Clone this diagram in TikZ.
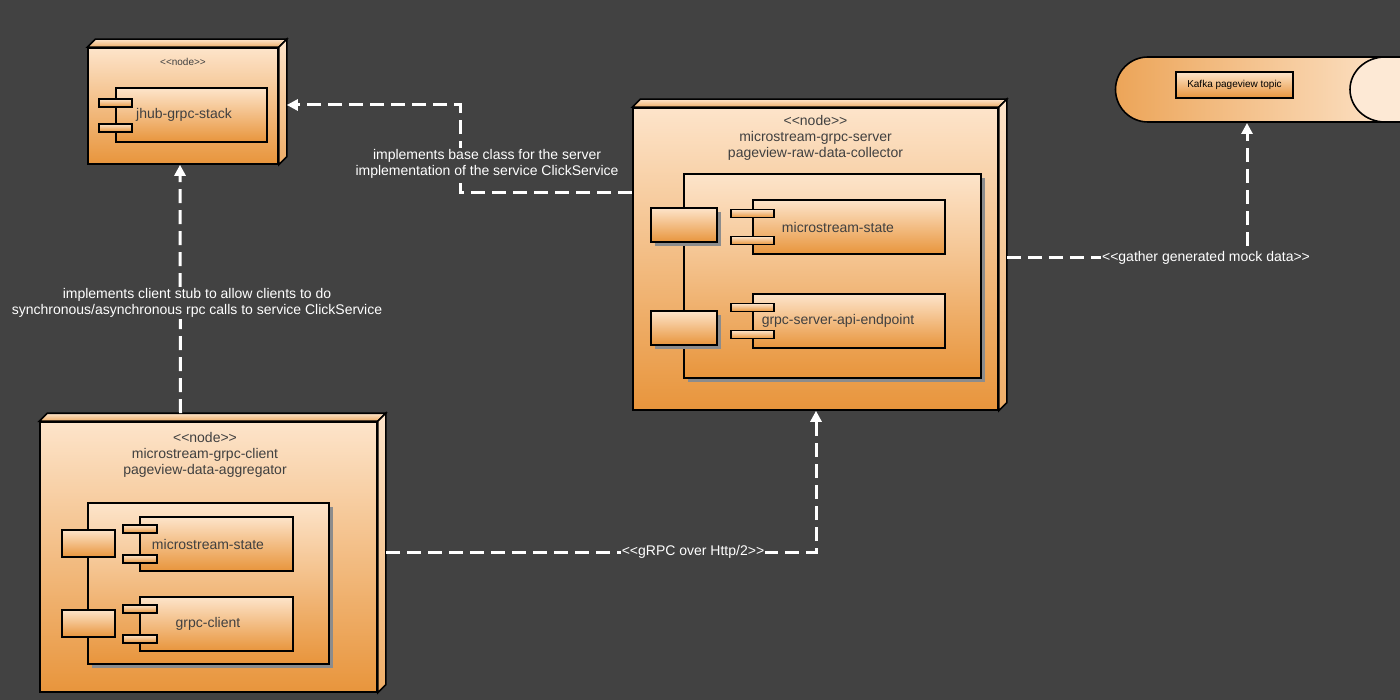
\documentclass[tikz,border=0pt]{standalone}
\usepackage{fontspec}
\setmainfont{Liberation Sans}
\usetikzlibrary{arrows.meta,calc}
\definecolor{bg}{HTML}{424242}
\definecolor{lite}{HTML}{FDE4CA}
\definecolor{deep}{HTML}{E8953C}
\definecolor{ink}{HTML}{404040}
\tikzset{
  box/.style={draw=black,line width=1.6pt,top color=lite,bottom color=deep,inner sep=0pt},
  side/.style={draw=black,line width=1.6pt,top color=lite,bottom color=deep!70!lite},
  tab/.style={box,minimum width=#1,minimum height=8pt},
  link/.style={draw=white,line width=3pt,dash pattern=on 14pt off 7pt,-{Triangle[width=11pt,length=11pt]}},
  lbl/.style={fill=bg,text=white,inner sep=1pt,align=center,font=\fontsize{14}{16}\selectfont},
  txt/.style={text=ink,align=center,font=\fontsize{14}{16}\selectfont},
}
\newcommand{\depth}[1]{%
  \path[side] (#1.north west) -- ++(8,-8) -- ++($(#1.north east)-(#1.north west)$) -- (#1.north east) -- cycle;
  \path[side] (#1.north east) -- ++(8,-8) -- ++($(#1.south east)-(#1.north east)$) -- (#1.south east) -- cycle;}
\newcommand{\stereo}{{<}{<}node{>}{>}}
\begin{document}
\begin{tikzpicture}[x=1pt,y=-1pt]
\fill[bg] (0,0) rectangle (1400,700);
\useasboundingbox (0,0) rectangle (1400,700);

% jhub node
\node[box,minimum width=190pt,minimum height=116pt] (jhub) at (183,106) {};
\depth{jhub}
\node[text=ink,font=\fontsize{10}{11}\selectfont] (jhubst) at (183,62) {\stereo};
\node[box,minimum width=151pt,minimum height=54pt] (stack) at (191.5,115) {};
\node[tab=33pt] (st1) at (115.5,103) {};
\node[tab=33pt] (st2) at (115.5,128) {};
\node[txt] at (184,115) {jhub-grpc-stack};

% server node
\node[box,minimum width=365pt,minimum height=302pt] (server) at (815.5,259) {};
\depth{server}
\node[txt] (serverst) at (815.5,138) {\stereo\\microstream-grpc-server\\pageview-raw-data-collector};
\fill[black!45] (688,178) rectangle (985,382);
\node[box,minimum width=297pt,minimum height=204pt] (spkg) at (832.5,276) {};
\fill[black!45] (655,212) rectangle (721,246);
\fill[black!45] (655,315) rectangle (721,349);
\node[box,minimum width=66pt,minimum height=34pt] (sp1) at (684,225) {};
\node[box,minimum width=66pt,minimum height=34pt] (sp2) at (684,328) {};
\node[box,minimum width=192pt,minimum height=54pt] (sstate) at (849,227) {};
\node[tab=43pt] at (752.5,213.5) {};
\node[tab=43pt] at (752.5,240.5) {};
\node[txt] at (838,227) {microstream-state};
\node[box,minimum width=192pt,minimum height=54pt] (sapi) at (849,321) {};
\node[tab=43pt] at (752.5,307.5) {};
\node[tab=43pt] at (752.5,334.5) {};
\node[txt] at (838,321) {grpc-server-api-endpoint};

% client node
\node[box,minimum width=337pt,minimum height=270pt] (client) at (208.5,557) {};
\depth{client}
\node[txt] (clientst) at (205,455) {\stereo\\microstream-grpc-client\\pageview-data-aggregator};
\fill[black!45] (92,507) rectangle (333,668);
\node[box,minimum width=241pt,minimum height=161pt] (cpkg) at (208.5,583.5) {};
\node[box,minimum width=53pt,minimum height=27pt] (cp1) at (88.5,543.5) {};
\node[box,minimum width=53pt,minimum height=27pt] (cp2) at (88.5,623.5) {};
\node[box,minimum width=153pt,minimum height=54pt] (cstate) at (216.5,544) {};
\node[tab=34pt] at (140,529) {};
\node[tab=34pt] at (140,559) {};
\node[txt] at (208,544) {microstream-state};
\node[box,minimum width=153pt,minimum height=54pt] (cgrpc) at (216.5,624) {};
\node[tab=34pt] at (140,609) {};
\node[tab=34pt] at (140,639) {};
\node[txt] at (208,624) {grpc-client};

% kafka topic
\path[draw=black,line width=1.6pt,left color=deep!80!lite,right color=lite]
  (1402,57) -- (1148,57) arc[start angle=-90,end angle=-270,radius=32.5] -- (1402,122);
\path[draw=black,line width=1.6pt,fill=lite!80!white]
  (1402,57) -- (1385,57) arc[start angle=-90,end angle=-270,x radius=35,y radius=32.5] -- (1402,122);
\coordinate (kafka) at (1247,123);
\node[box,minimum width=117pt,minimum height=26pt,font=\fontsize{10}{12}\selectfont,text=black] (topic) at (1234.5,85) {Kafka pageview topic};

% connectors
\draw[link] (server.west |- 0,193) -- (460,193) -- (460,105) -- ([xshift=8pt]jhub.east |- 0,105);
\node[lbl] at (487,164) {implements base class for the server\\implementation of the service ClickService};
\draw[link] ([xshift=-28pt,yshift=8pt]client.north) -- ([xshift=-3pt]jhub.south);
\node[lbl] at (197,303) {implements client stub to allow clients to do\\synchronous/asynchronous rpc calls to service ClickService};
\draw[link] ([xshift=8pt]client.east |- 0,552) -- (816,552) -- (server.south -| 816,0);
\node[lbl] at (693,552) {{<}{<}gRPC over Http/2{>}{>}};
\draw[link] ([xshift=8pt]server.east |- 0,258) -- (1247,258) -- (kafka);
\node[lbl] at (1206,258) {{<}{<}gather generated mock data{>}{>}};
\end{tikzpicture}
\end{document}
